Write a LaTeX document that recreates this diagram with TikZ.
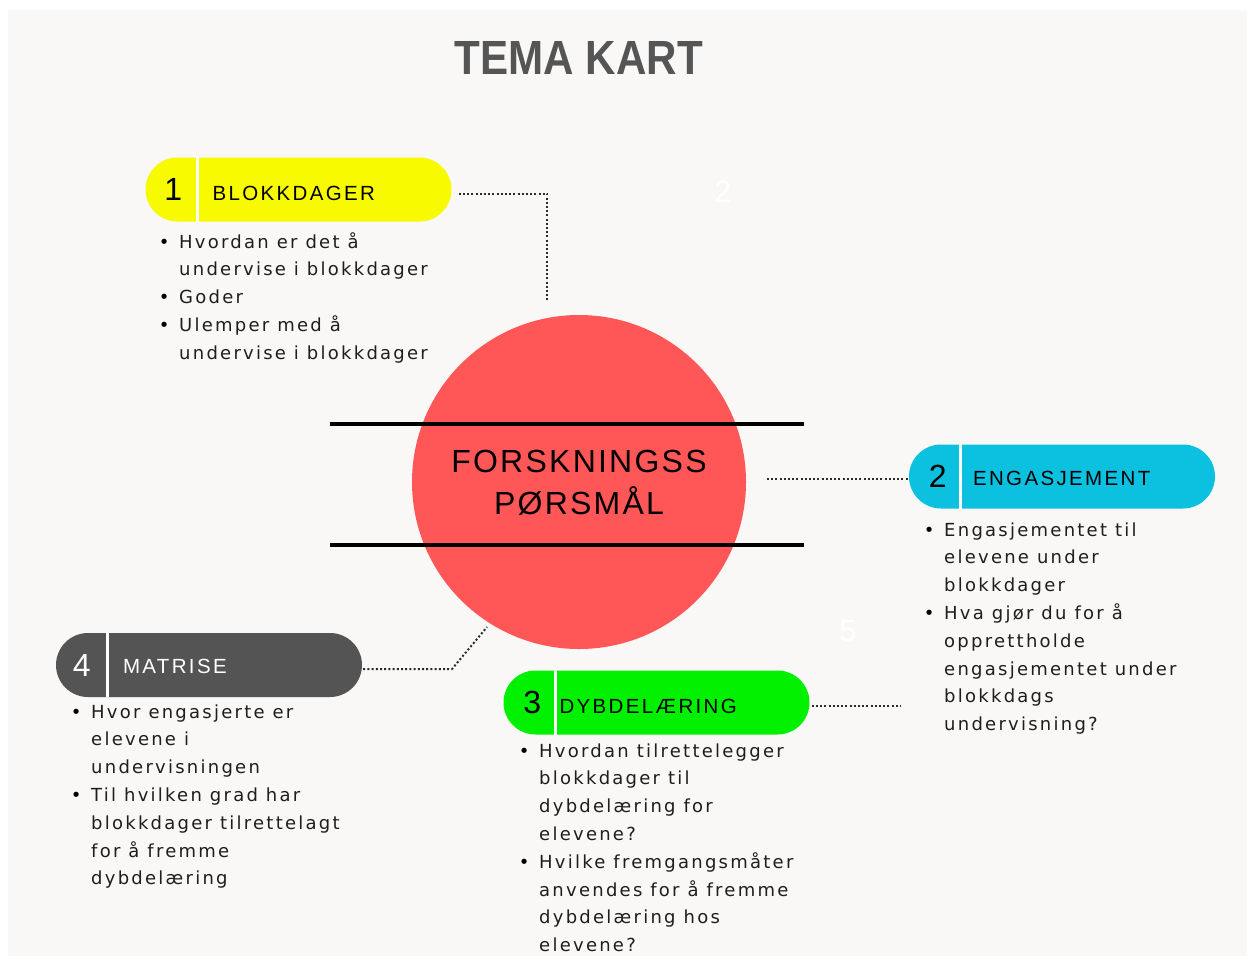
\documentclass[tikz,border=0pt]{standalone}
\usepackage{fontspec}
\usepackage{graphicx}
\setmainfont{Liberation Sans}
\newfontfamily\bodyfont{DejaVu Sans}[LetterSpace=12.5]
\newfontfamily\headfont{Liberation Sans}[LetterSpace=11.5]
\newfontfamily\corefont{Liberation Sans}[LetterSpace=7]

\definecolor{panel}{HTML}{F9F8F6}
\definecolor{corered}{HTML}{FF5757}
\definecolor{pillyellow}{HTML}{F8FB00}
\definecolor{pillcyan}{HTML}{0CC0DF}
\definecolor{pillgreen}{HTML}{00F000}
\definecolor{pillgray}{HTML}{545454}
\definecolor{titlegray}{HTML}{555555}
\definecolor{bodytext}{HTML}{1E1E1E}
\definecolor{dotline}{HTML}{2A2A2A}

% bullet hung to the left of the text column
\newcommand{\bulletmark}{\leavevmode\llap{\makebox[12pt][c]{\textcolor{black}{•}}\hspace{9pt}}}

\tikzset{
  pill/.style={rectangle, rounded corners=32pt, minimum width=306pt,
    minimum height=64pt, inner sep=0pt, draw=none},
  divider/.style={white, line width=3pt},
  pillnum/.style={inner sep=0pt, font={\fontsize{32}{36}\selectfont}},
  pilllabel/.style={anchor=base west, inner sep=0pt,
    font={\headfont\fontsize{20.5}{24}\selectfont}},
  listtext/.style={anchor=base west, inner sep=0pt, text=bodytext,
    font={\bodyfont\fontsize{18}{27.8}\selectfont}},
  conn/.style={dotline, line width=2pt, dash pattern=on 2pt off 2.2pt},
  bar/.style={black, line width=4.5pt},
  ghost/.style={white, inner sep=0pt, font={\fontsize{31}{34}\selectfont}},
}

\begin{document}
\begin{tikzpicture}[x=1pt, y=-1pt]
  \useasboundingbox (0,0) rectangle (1247,956);
  \fill[white] (0,0) rectangle (1247,956);
  \fill[panel] (8,10) rectangle (1247,956);

  % title
  \node[inner sep=0pt, text=titlegray] (title) at (579,57.5)
    {\resizebox{248pt}{33pt}{\bfseries TEMA KART}};

  % faint white numerals
  \node[ghost] (g2) at (723,192) {2};
  \node[ghost] (g5) at (848,631) {5};

  % central circle with its two bars
  \node[circle, fill=corered, minimum size=334pt, inner sep=0pt] (core) at (579,482) {};
  \draw[bar] (330,424) -- (804,424);
  \draw[bar] (330,545) -- (804,545);
  \node[align=center, inner sep=0pt, text=black,
        font={\corefont\fontsize{32}{42}\selectfont}] (coretext) at (579,482.5)
    {FORSKNINGSS\\PØRSMÅL};

  % pills
  \node[pill, fill=pillyellow] (p1) at (298.5,189.5) {};
  \node[pill, fill=pillcyan]   (p2) at (1062,476.5) {};
  \node[pill, fill=pillgreen]  (p3) at (656.5,702.5) {};
  \node[pill, fill=pillgray]   (p4) at (209,665) {};

  \foreach \p in {p1,p2,p3,p4}{
    \draw[divider] ([xshift=52pt]\p.north west) -- ([xshift=52pt]\p.south west);
  }

  \node[pillnum, text=black] (n1) at ([xshift=28pt]p1.west) {1};
  \node[pillnum, text=black] (n2) at ([xshift=29pt]p2.west) {2};
  \node[pillnum, text=black] (n3) at ([xshift=29pt]p3.west) {3};
  \node[pillnum, text=white] (n4) at ([xshift=26pt]p4.west) {4};

  \node[pilllabel, text=black] (l1) at ([shift={(67,10.5)}]p1.west) {BLOKKDAGER};
  \node[pilllabel, text=black] (l2) at ([shift={(64,8.5)}]p2.west) {ENGASJEMENT};
  \node[pilllabel, text=black] (l3) at ([shift={(56,10.5)}]p3.west) {DYBDELÆRING};
  \node[pilllabel, text=white] (l4) at ([shift={(67,8)}]p4.west) {MATRISE};

  % dotted connectors
  \coordinate (c1) at (547,300);
  \coordinate (c2) at (767,479);
  \coordinate (c3) at (900,706);
  \coordinate (c4a) at (452,669);
  \coordinate (c4) at (487,627);
  \draw[conn] ([shift={(7,4)}]p1.east) -| (c1);
  \draw[conn] (c2) -- (c2 -| p2.west);
  \draw[conn] ([shift={(2,3.5)}]p3.east) -- (c3);
  \draw[conn] ([shift={(1,4)}]p4.east) -- (c4a) -- (c4);

  % bullet lists
  \node[listtext] (t1) at (179,248) {\parbox[t]{330pt}{%
    \bulletmark Hvordan er det å\\
    undervise i blokkdager\\
    \bulletmark Goder\\
    \bulletmark Ulemper med å\\
    undervise i blokkdager}};

  \node[listtext] (t2) at (944,536) {\parbox[t]{300pt}{%
    \bulletmark Engasjementet til\\
    elevene under\\
    blokkdager\\
    \bulletmark Hva gjør du for å\\
    opprettholde\\
    engasjementet under\\
    blokkdags\\
    undervisning?}};

  \node[listtext] (t3) at (539,757) {\parbox[t]{330pt}{%
    \bulletmark Hvordan tilrettelegger\\
    blokkdager til\\
    dybdelæring for\\
    elevene?\\
    \bulletmark Hvilke fremgangsmåter\\
    anvendes for å fremme\\
    dybdelæring hos\\
    elevene?}};

  \node[listtext] (t4) at (91,718) {\parbox[t]{330pt}{%
    \bulletmark Hvor engasjerte er\\
    elevene i\\
    undervisningen\\
    \bulletmark Til hvilken grad har\\
    blokkdager tilrettelagt\\
    for å fremme\\
    dybdelæring}};
\end{tikzpicture}
\end{document}
